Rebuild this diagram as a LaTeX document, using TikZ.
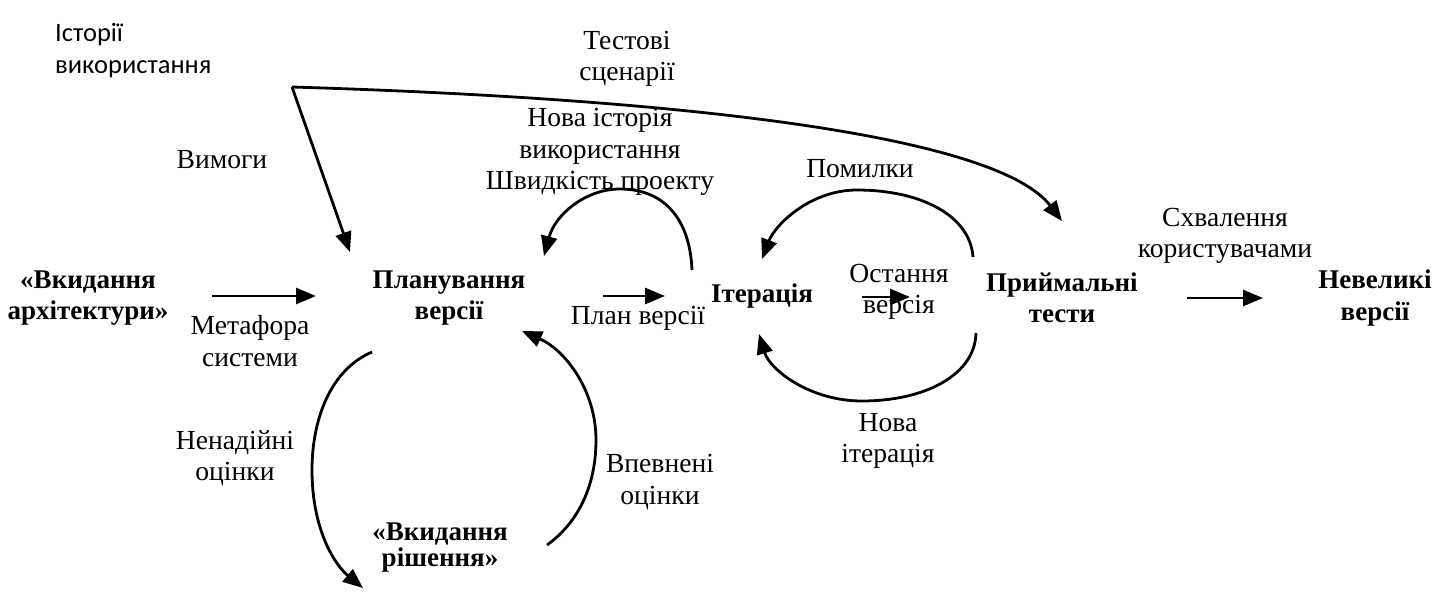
\documentclass[tikz,border=0pt]{standalone}
\usepackage{fontspec}
\setmainfont{Liberation Serif}
\newfontfamily\sansf{Carlito}
\usetikzlibrary{arrows.meta}
\begin{document}
\begin{tikzpicture}[x=1pt,y=-1pt,
 lbl/.style={font=\fontsize{27.6}{31.5}\selectfont, align=center, inner sep=0pt},
 bnode/.style={font=\fontsize{27}{31.5}\selectfont\bfseries, align=center, inner sep=0pt},
 conn/.style={line width=2.8pt, -{Triangle[length=20pt,width=16pt]}},
]
\useasboundingbox[fill=white] (0,0) rectangle (1444,611);
% main nodes
\node[bnode] (arch) at (88,298) {«Вкидання\\архітектури»};
\node[bnode] (plan) at (449,298) {Планування\\версії};
\node[bnode] (iter) at (762,296) {Ітерація};
\node[bnode] (acc) at (1062,298) {Приймальні\\тести};
\node[bnode] (small) at (1375,298) {Невеликі\\версії};
\node[bnode, font=\fontsize{27}{26}\selectfont\bfseries] (spike) at (440,548) {«Вкидання\\рішення»};
\node[font=\sansf\fontsize{26.5}{31.5}\selectfont, align=left, inner sep=0pt, anchor=base west] (stories) at (55,73) {Історії\\використання};
% labels
\node[lbl] (ltest) at (627,59) {Тестові\\сценарії};
\node[lbl] (lreq) at (222,160) {Вимоги};
\node[lbl] (lnew) at (600,152) {Нова історія\\використання\\Швидкість проекту};
\node[lbl] (lmeta) at (250,341) {Метафора\\системи};
\node[lbl] (lplan) at (638,318) {План версії};
\node[lbl] (llast) at (899,292) {Остання\\версія};
\node[lbl] (lbug) at (860,169) {Помилки};
\node[lbl] (lnewit) at (888,441) {Нова\\ітерація};
\node[lbl] (lappr) at (1225,236) {Схвалення\\користувачами};
\node[lbl] (lunc) at (235,458) {Ненадійні\\оцінки};
\node[lbl] (lconf) at (660,482) {Впевнені\\оцінки};
% connector end points
\coordinate (src) at (292,87);
\coordinate (reqEnd) at (350,252);
\coordinate (testEnd) at (1062,221);
\coordinate (a1s) at (212,296); \coordinate (a1e) at (316,296);
\coordinate (a2s) at (603,296); \coordinate (a2e) at (665,296);
\coordinate (a3s) at (862,297); \coordinate (a3e) at (910,297);
\coordinate (a4s) at (1187,298); \coordinate (a4e) at (1263,298);
\coordinate (vs) at (692,270); \coordinate (ve) at (544,256);
\coordinate (bs) at (973,257); \coordinate (be) at (762,259);
\coordinate (ns) at (976,333); \coordinate (ne) at (759,334);
\coordinate (us) at (372,352); \coordinate (ue) at (363,588);
\coordinate (cs) at (547,545); \coordinate (ce) at (522,331);
% connectors
\draw[conn] (src) -- (reqEnd);
\draw[conn] (src) .. controls (720,100) and (1000,140) .. (testEnd);
\draw[conn] (a1s) -- (a1e);
\draw[conn] (a2s) -- (a2e);
\draw[conn] (a3s) -- (a3e);
\draw[conn] (a4s) -- (a4e);
\draw[conn] (vs) .. controls (690,220) and (665,189) .. (620,189) .. controls (585,189) and (555,215) .. (ve);
\draw[conn] (bs) .. controls (970,215) and (920,190) .. (857,190) .. controls (810,190) and (775,225) .. (be);
\draw[conn] (ns) .. controls (975,375) and (925,401) .. (862,401) .. controls (810,401) and (770,370) .. (ne);
\draw[conn] (us) .. controls (330,370) and (312,420) .. (312,470) .. controls (312,530) and (335,565) .. (ue);
\draw[conn] (cs) .. controls (575,525) and (596,490) .. (596,440) .. controls (596,390) and (565,350) .. (ce);
\end{tikzpicture}
\end{document}
